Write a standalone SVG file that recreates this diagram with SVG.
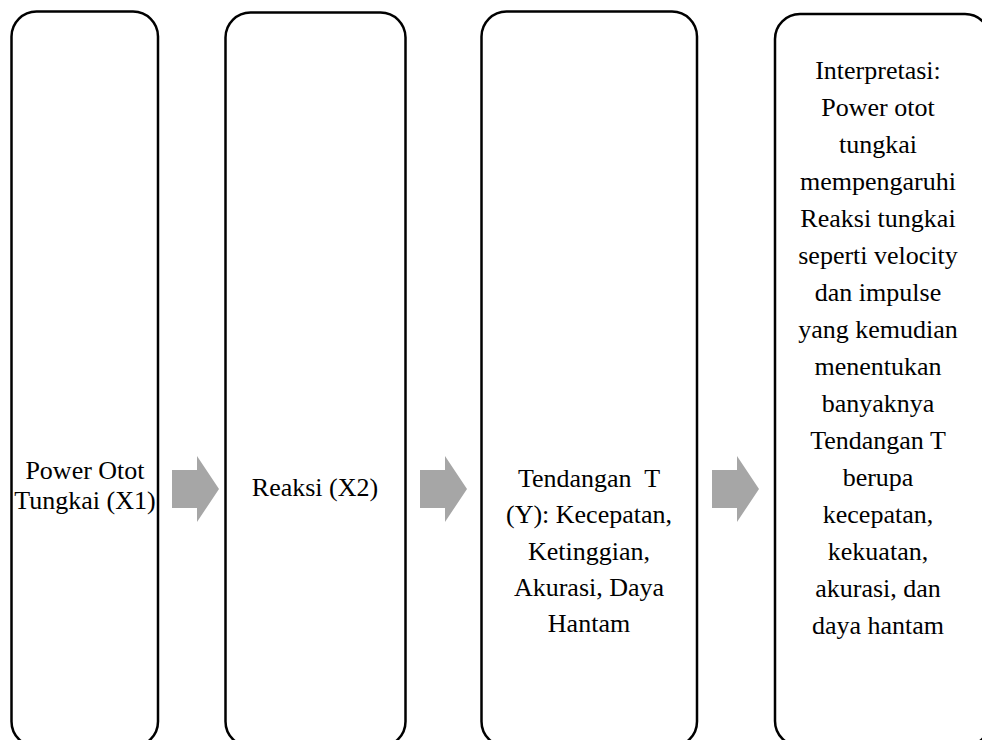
<svg xmlns="http://www.w3.org/2000/svg" width="982" height="740" viewBox="0 0 982 740">
<style>
.box{fill:#fff;stroke:#000;stroke-width:2.5}
.t{font-family:"Liberation Serif","Times New Roman",serif;font-size:26px;fill:#000;text-anchor:middle}
.arr{fill:#A6A6A6}
</style>
<rect width="982" height="740" fill="#fff"/>
<g id="node1">
<rect class="box" x="11.5" y="11.5" width="146.5" height="735" rx="25"/>
<text class="t" x="85" y="479">Power Otot</text>
<text class="t" x="85" y="509">Tungkai (X1)</text>
</g>
<g id="node2">
<rect class="box" x="225.5" y="12.5" width="180" height="734" rx="25"/>
<text class="t" x="315" y="496">Reaksi (X2)</text>
</g>
<g id="node3">
<rect class="box" x="481.5" y="11.5" width="215.5" height="735" rx="25"/>
<text class="t" x="589" y="487" xml:space="preserve">Tendangan  T</text>
<text class="t" x="589" y="523">(Y): Kecepatan,</text>
<text class="t" x="589" y="560">Ketinggian,</text>
<text class="t" x="589" y="596">Akurasi, Daya</text>
<text class="t" x="589" y="632">Hantam</text>
</g>
<g id="node4">
<rect class="box" x="775" y="14" width="215" height="732" rx="25"/>
<text class="t" x="878" y="79">Interpretasi:</text>
<text class="t" x="878" y="116">Power otot</text>
<text class="t" x="878" y="153">tungkai</text>
<text class="t" x="878" y="190">mempengaruhi</text>
<text class="t" x="878" y="227">Reaksi tungkai</text>
<text class="t" x="878" y="264">seperti velocity</text>
<text class="t" x="878" y="301">dan impulse</text>
<text class="t" x="878" y="338">yang kemudian</text>
<text class="t" x="878" y="375">menentukan</text>
<text class="t" x="878" y="412">banyaknya</text>
<text class="t" x="878" y="449">Tendangan T</text>
<text class="t" x="878" y="486">berupa</text>
<text class="t" x="878" y="523">kecepatan,</text>
<text class="t" x="878" y="560">kekuatan,</text>
<text class="t" x="878" y="597">akurasi, dan</text>
<text class="t" x="878" y="634">daya hantam</text>
</g>
<g id="connectors">
<polygon class="arr" points="172,470 197,470 197,456 219,489 197,522 197,508 172,508"/>
<polygon class="arr" points="420,470 445,470 445,456 467,489 445,522 445,508 420,508"/>
<polygon class="arr" points="712,470 737,470 737,456 759,489 737,522 737,508 712,508"/>
</g>
</svg>
